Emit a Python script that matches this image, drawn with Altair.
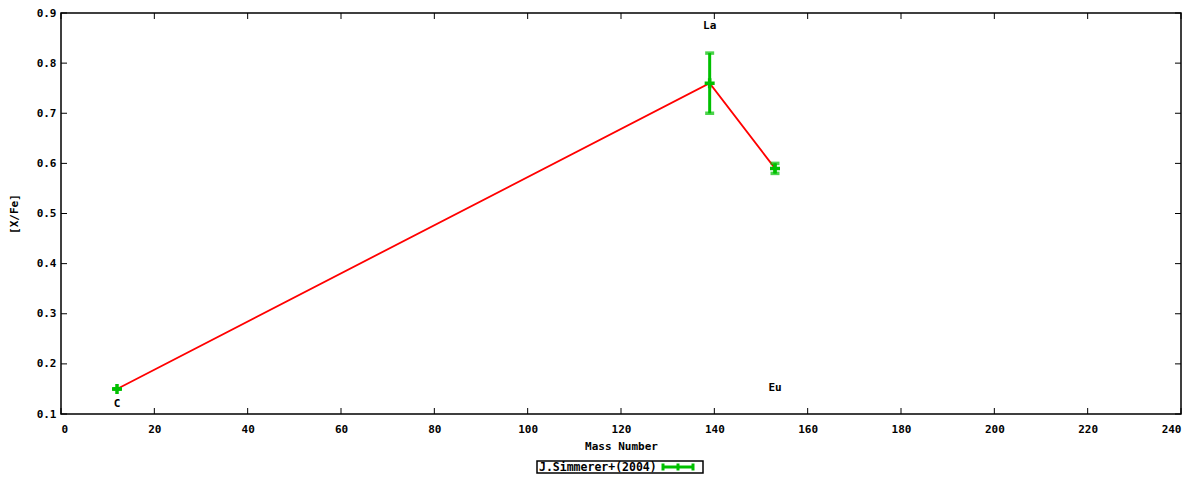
import pandas as pd
import altair as alt

# Abundance data
elements = ["C", "La", "Eu"]
mass_number = [12, 139, 153]
x_fe = [0.15, 0.76, 0.59]
x_fe_err = [0.0, 0.06, 0.01]

# Label positions (data coordinates)
label_x = [12, 139, 153]
label_y = [0.12, 0.875, 0.152]

x_ticks = list(range(0, 241, 20))
y_ticks = [0.1, 0.2, 0.3, 0.4, 0.5, 0.6, 0.7, 0.8, 0.9]

legend_label = "J.Simmerer+(2004)"

W, H = 1120, 401
FONT = "DejaVu Sans Mono"
GREEN = "#00c000"
PLUS = "M-1,0L1,0M0,-1L0,1"

df = pd.DataFrame({"element": elements, "mass": mass_number, "xfe": x_fe, "err": x_fe_err})
df["lo"] = df["xfe"] - df["err"]
df["hi"] = df["xfe"] + df["err"]
labels = pd.DataFrame({"element": elements, "lx": label_x, "ly": label_y})
xt = pd.DataFrame({"t": x_ticks})
yt = pd.DataFrame({"t": y_ticks})
one = pd.DataFrame({"name": [legend_label]})

xscale = alt.Scale(domain=[0, 240], nice=False, zero=False)
yscale = alt.Scale(domain=[0.1, 0.9], nice=False, zero=False)

base = alt.Chart(df)

line = base.mark_line(color="red", strokeWidth=1.8).encode(
    x=alt.X("mass:Q", scale=xscale, title="Mass Number",
            axis=alt.Axis(values=x_ticks, format="d", ticks=False, grid=False,
                          labelPadding=9, titlePadding=6)),
    y=alt.Y("xfe:Q", scale=yscale, title="[X/Fe]",
            axis=alt.Axis(values=y_ticks, format=".1f", ticks=False, grid=False,
                          labelPadding=5, titlePadding=17)),
)

bars = base.mark_rule(color=GREEN, strokeWidth=3).encode(
    x=alt.X("mass:Q", scale=xscale), y=alt.Y("lo:Q", scale=yscale), y2="hi:Q"
)
caps_lo = base.mark_tick(color=GREEN, orient="horizontal", size=9, thickness=3.5).encode(
    x=alt.X("mass:Q", scale=xscale), y=alt.Y("lo:Q", scale=yscale)
)
caps_hi = base.mark_tick(color=GREEN, orient="horizontal", size=9, thickness=3.5).encode(
    x=alt.X("mass:Q", scale=xscale), y=alt.Y("hi:Q", scale=yscale)
)
centers = base.mark_point(shape=PLUS, size=100, color=GREEN, filled=False,
                          strokeWidth=3.5, opacity=1).encode(
    x=alt.X("mass:Q", scale=xscale), y=alt.Y("xfe:Q", scale=yscale)
)

text = alt.Chart(labels).mark_text(font=FONT, fontSize=11, fontWeight="bold", color="black").encode(
    x=alt.X("lx:Q", scale=xscale), y=alt.Y("ly:Q", scale=yscale), text="element:N"
)

# gnuplot-style inward ticks, mirrored on all four sides
tk = dict(color="black", strokeWidth=1)
xt_bottom = alt.Chart(xt).mark_rule(**tk).encode(
    x=alt.X("t:Q", scale=xscale), y=alt.value(H), y2=alt.value(H - 6))
xt_top = alt.Chart(xt).mark_rule(**tk).encode(
    x=alt.X("t:Q", scale=xscale), y=alt.value(0), y2=alt.value(6))
yt_left = alt.Chart(yt).mark_rule(**tk).encode(
    y=alt.Y("t:Q", scale=yscale), x=alt.value(0), x2=alt.value(6))
yt_right = alt.Chart(yt).mark_rule(**tk).encode(
    y=alt.Y("t:Q", scale=yscale), x=alt.value(W), x2=alt.value(W - 6))

# legend box below the plot
lg_box = alt.Chart(one).mark_rect(fill="white", stroke="black", strokeWidth=1.5).encode(
    x=alt.value(476), x2=alt.value(642), y=alt.value(448), y2=alt.value(460))
lg_text = alt.Chart(one).mark_text(font=FONT, fontSize=11.5, fontWeight="bold", align="left",
                                   baseline="middle", color="black").encode(
    x=alt.value(478), y=alt.value(454.5), text="name:N")
lg_h = alt.Chart(one).mark_rule(color=GREEN, strokeWidth=3).encode(
    x=alt.value(601), x2=alt.value(633), y=alt.value(454))
lg_v = [
    alt.Chart(one).mark_rule(color=GREEN, strokeWidth=3).encode(
        x=alt.value(px), y=alt.value(450.5), y2=alt.value(457.5))
    for px in (602, 617, 632)
]

chart = alt.layer(
    xt_bottom, xt_top, yt_left, yt_right,
    line, bars, caps_lo, caps_hi, centers, text,
    lg_box, lg_text, lg_h, *lg_v
).properties(
    width=W, height=H,
    autosize=alt.AutoSizeParams(type="none"),
    padding={"left": 53, "top": 5, "right": 11, "bottom": 60},
).configure_view(
    stroke="black", strokeWidth=1.5
).configure_axis(
    labelFont=FONT, titleFont=FONT, labelFontSize=11, titleFontSize=11,
    labelFontWeight="bold", titleFontWeight="bold",
    labelColor="black", titleColor="black", domain=False,
)

chart.save("out.html", embed_options={"renderer": "svg", "actions": False})
